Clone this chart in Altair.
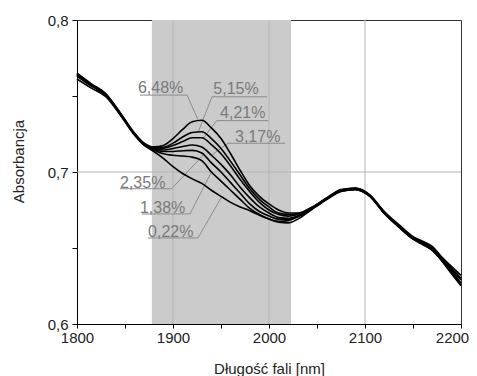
import altair as alt
import pandas as pd

# wavelength grid (nm)
wavelength = [1800, 1815, 1830, 1845, 1860, 1870, 1880, 1890, 1900, 1910, 1920, 1930,
              1940, 1950, 1960, 1970, 1980, 1990, 2000, 2010, 2020, 2030, 2045, 2060,
              2075, 2090, 2105, 2120, 2135, 2150, 2160, 2170, 2180, 2190, 2200]

s648 = [0.765, 0.758, 0.7515, 0.739, 0.7255, 0.719, 0.7165, 0.7175, 0.722, 0.728, 0.733, 0.734,
        0.729, 0.722, 0.712, 0.701, 0.691, 0.684, 0.679, 0.675, 0.673, 0.673, 0.677, 0.683,
        0.6885, 0.6895, 0.685, 0.674, 0.6655, 0.6575, 0.6545, 0.651, 0.644, 0.638, 0.632]
s515 = [0.764, 0.757, 0.751, 0.7385, 0.725, 0.7185, 0.716, 0.7163, 0.719, 0.723, 0.726, 0.7265,
        0.722, 0.7155, 0.707, 0.698, 0.689, 0.682, 0.677, 0.673, 0.672, 0.6725, 0.6768, 0.6828,
        0.6882, 0.6893, 0.6848, 0.6738, 0.665, 0.657, 0.654, 0.6505, 0.6435, 0.637, 0.630]
s421 = [0.7645, 0.7575, 0.7512, 0.7388, 0.7252, 0.7185, 0.7155, 0.7157, 0.7175, 0.720, 0.7225, 0.7225,
        0.718, 0.712, 0.704, 0.695, 0.687, 0.680, 0.675, 0.672, 0.671, 0.672, 0.6765, 0.6826,
        0.688, 0.6892, 0.6847, 0.6736, 0.6648, 0.6568, 0.6537, 0.650, 0.643, 0.636, 0.629]
s317 = [0.7638, 0.757, 0.7508, 0.7385, 0.725, 0.7182, 0.7152, 0.7145, 0.7155, 0.7168, 0.7178, 0.7165,
        0.711, 0.705, 0.698, 0.690, 0.683, 0.677, 0.673, 0.670, 0.6695, 0.6712, 0.6762, 0.6824,
        0.6878, 0.689, 0.6845, 0.6733, 0.6645, 0.6565, 0.6532, 0.6495, 0.6425, 0.635, 0.627]
s235 = [0.7635, 0.7568, 0.7506, 0.7382, 0.7248, 0.718, 0.715, 0.7135, 0.7135, 0.714, 0.7142, 0.7125,
        0.706, 0.700, 0.693, 0.686, 0.679, 0.674, 0.671, 0.669, 0.669, 0.6708, 0.676, 0.6822,
        0.6876, 0.6888, 0.6843, 0.6731, 0.6642, 0.6562, 0.6528, 0.649, 0.642, 0.634, 0.626]
s138 = [0.763, 0.7565, 0.7503, 0.738, 0.7245, 0.7178, 0.7145, 0.712, 0.711, 0.7105, 0.7098, 0.7075,
        0.700, 0.694, 0.688, 0.682, 0.676, 0.672, 0.669, 0.6675, 0.668, 0.6705, 0.6758, 0.682,
        0.6874, 0.6886, 0.6841, 0.6729, 0.664, 0.656, 0.6525, 0.6488, 0.6418, 0.6335, 0.6255]
s022 = [0.7612, 0.7552, 0.7495, 0.7375, 0.7242, 0.7175, 0.7135, 0.709, 0.7035, 0.699, 0.6955, 0.6925,
        0.688, 0.684, 0.680, 0.677, 0.6745, 0.6715, 0.669, 0.667, 0.6665, 0.669, 0.6755, 0.6818,
        0.6872, 0.6884, 0.6839, 0.6727, 0.6638, 0.6558, 0.6522, 0.6485, 0.6415, 0.6332, 0.6252]

series_names = ["6,48%", "5,15%", "4,21%", "3,17%", "2,35%", "1,38%", "0,22%"]
series_values = [s648, s515, s421, s317, s235, s138, s022]

band = [1878, 2023]
x_grid = [1900, 2000, 2100]
y_grid = [0.7]
x_ticks = [1800, 1850, 1900, 1950, 2000, 2050, 2100, 2150, 2200]
y_ticks = [0.6, 0.65, 0.7, 0.75, 0.8]

# annotation labels: text, text anchor, underline, leader end
label_text = ["6,48%", "5,15%", "4,21%", "3,17%", "2,35%", "1,38%", "0,22%"]
label_x = [1863.5, 1942.0, 1949.0, 1964.6, 1844.8, 1865.6, 1874.0]
label_y = [0.7520, 0.7511, 0.7353, 0.7200, 0.6897, 0.6730, 0.6574]
under_x1 = [1865.6, 1940.6, 1945.5, 1957.3, 1844.8, 1867.7, 1874.0]
under_x2 = [1914.6, 1997.9, 1999.3, 2016.7, 1898.6, 1917.7, 1926.0]
under_y = [0.7506, 0.7495, 0.7338, 0.7189, 0.6890, 0.6724, 0.6566]
lead_from_x = [1914.6, 1940.6, 1945.5, 1957.3, 1898.6, 1917.7, 1926.0]
lead_to_x = [1926.0, 1926.4, 1931.6, 1940.0, 1932.0, 1940.0, 1951.0]
lead_to_y = [0.7345, 0.7265, 0.7222, 0.7110, 0.7115, 0.7000, 0.6840]

rows = []
for name, vals in zip(series_names, series_values):
    for w, a in zip(wavelength, vals):
        rows.append({"series": name, "nm": w, "abs": a})
df = pd.DataFrame(rows)

segs = []
for i in range(len(label_text)):
    segs.append({"x": under_x1[i], "x2": under_x2[i], "y": under_y[i], "y2": under_y[i]})
    segs.append({"x": lead_from_x[i], "x2": lead_to_x[i], "y": under_y[i], "y2": lead_to_y[i]})
seg_df = pd.DataFrame(segs)
lab_df = pd.DataFrame({"t": label_text, "x": label_x, "y": label_y})

xs = alt.Scale(domain=[1800, 2200], nice=False, zero=False)
ys = alt.Scale(domain=[0.6, 0.8], nice=False, zero=False)

FONT = "Liberation Sans"
W, H = 384, 304
XT = "Długość fali [nm]"
YT = "Absorbancja"

x_axis = alt.Axis(values=x_ticks, grid=False, tickSize=4, labelPadding=2,
                  labelExpr="datum.value % 100 == 0 ? datum.value : ''",
                  labelOffset={"condition": {"test": "datum.value == 2200", "value": -9}, "value": 0},
                  labelFlush=False, labelOverlap=False, titlePadding=16)
y_axis = alt.Axis(values=y_ticks, grid=False, tickSize=5, labelPadding=4,
                  labelExpr="abs(datum.value*10 - round(datum.value*10)) < 0.001 ? replace(format(datum.value, '.1f'), '.', ',') : ''",
                  labelFlush=False, labelOverlap=False, titlePadding=21, titleY=141)

band_layer = alt.Chart(pd.DataFrame({"a": [band[0]], "b": [band[1]]})).mark_rect(
    color="#cbcbcb").encode(
    x=alt.X("a:Q", scale=xs, title=XT, axis=x_axis), x2="b:Q",
    y=alt.value(0), y2=alt.value(H))

xgrid_layer = alt.Chart(pd.DataFrame({"g": x_grid})).mark_rule(
    color="#b3b3b3", strokeWidth=1).encode(
    x=alt.X("g:Q", scale=xs, title=XT, axis=x_axis), y=alt.value(0), y2=alt.value(H))

ygrid_layer = alt.Chart(pd.DataFrame({"g": y_grid})).mark_rule(
    color="#b3b3b3", strokeWidth=1).encode(
    y=alt.Y("g:Q", scale=ys, title=YT, axis=y_axis), x=alt.value(0), x2=alt.value(W))

lines = alt.Chart(df).mark_line(color="black", strokeWidth=1.6, interpolate="monotone").encode(
    x=alt.X("nm:Q", scale=xs, title=XT, axis=x_axis),
    y=alt.Y("abs:Q", scale=ys, title=YT, axis=y_axis),
    detail="series:N")

seg_layer = alt.Chart(seg_df).mark_rule(color="#8c8c8c", strokeWidth=1).encode(
    x=alt.X("x:Q", scale=xs, title=XT, axis=x_axis), x2="x2:Q",
    y=alt.Y("y:Q", scale=ys, title=YT, axis=y_axis), y2="y2:Q")

text_layer = alt.Chart(lab_df).mark_text(
    align="left", baseline="alphabetic", font=FONT, fontSize=16, color="#7a7a7a").encode(
    x=alt.X("x:Q", scale=xs, title=XT, axis=x_axis),
    y=alt.Y("y:Q", scale=ys, title=YT, axis=y_axis), text="t:N")

chart = alt.layer(band_layer, xgrid_layer, ygrid_layer, seg_layer, lines, text_layer).properties(
    width=W, height=H,
    autosize=alt.AutoSizeParams(type="none"),
    padding={"left": 69, "top": 12, "right": 8, "bottom": 52},
).configure_view(stroke="#333333", strokeWidth=1).configure_axis(
    domainColor="black", tickColor="black", labelFont=FONT, titleFont=FONT,
    labelFontSize=15, titleFontSize=15, labelColor="#222222", titleColor="#222222",
    titleFontWeight="normal")

chart.save("out.html", embed_options={"renderer": "svg", "actions": False})
